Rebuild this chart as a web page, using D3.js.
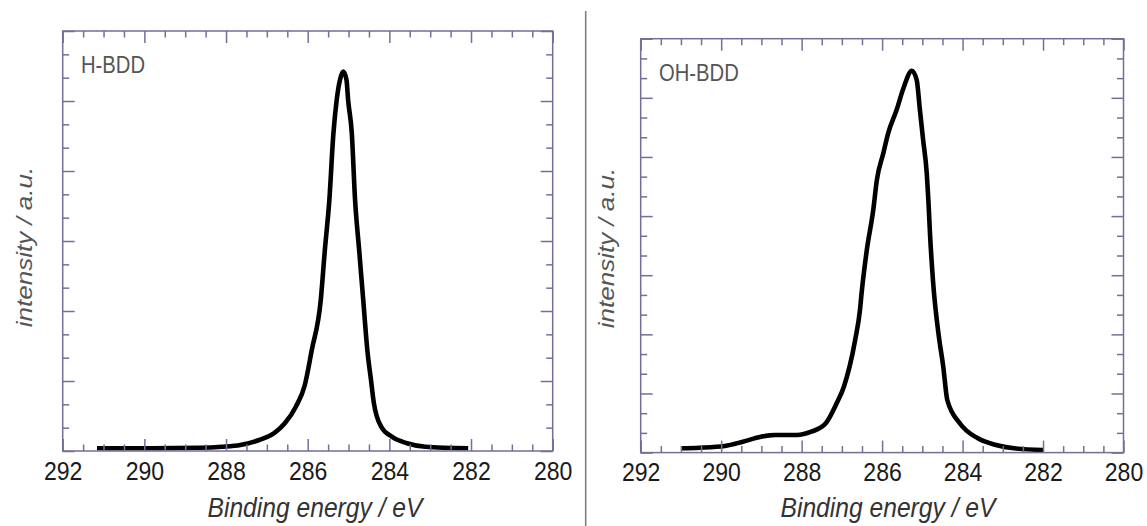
<!DOCTYPE html>
<html>
<head>
<meta charset="utf-8">
<script src="https://cdn.jsdelivr.net/npm/d3@7"></script>
<style>
  body { margin: 0; background: #fff; }
  svg { display: block; }
</style>
</head>
<body>
<svg id="chart" width="1147" height="526"></svg>
<script>
// H-BDD spectrum (binding energy in eV, intensity in arbitrary units)
const hEnergy = [291.16, 289.86, 288.64, 288.10, 287.65, 287.19, 286.83, 286.56, 286.29, 286.07,
                 285.90, 285.68, 285.58, 285.47, 285.37, 285.29, 285.21, 285.13, 285.05, 285.01,
                 284.92, 284.84, 284.74, 284.64, 284.54, 284.45, 284.38, 284.20, 283.94, 283.57,
                 283.12, 282.07];
const hIntensity = [0.039, 0.039, 0.046, 0.061, 0.086, 0.157, 0.253, 0.396, 0.633, 0.943,
                    1.443, 2.157, 2.871, 3.586, 4.539, 5.014, 5.300, 5.419, 5.300, 5.014,
                    4.539, 3.586, 2.871, 2.157, 1.443, 1.014, 0.686, 0.347, 0.204, 0.110,
                    0.061, 0.039];

// OH-BDD spectrum
const ohEnergy = [291.00, 290.54, 289.91, 289.46, 289.01, 288.66, 288.12, 287.76, 287.40, 287.13,
                  286.95, 286.67, 286.55, 286.51, 286.38, 286.22, 286.13, 285.97, 285.85, 285.64,
                  285.47, 285.26, 285.14, 285.06, 284.98, 284.89, 284.85, 284.81, 284.73, 284.60,
                  284.48, 284.38, 284.07, 283.62, 283.17, 282.72, 281.99];
const ohIntensity = [0.073, 0.083, 0.112, 0.184, 0.269, 0.298, 0.298, 0.353, 0.496, 0.834,
                     1.115, 1.904, 2.412, 2.694, 3.426, 4.103, 4.610, 5.062, 5.400, 5.794,
                     6.161, 6.459, 6.301, 5.794, 5.287, 4.723, 4.272, 3.709, 2.863, 2.018,
                     1.453, 0.890, 0.496, 0.242, 0.129, 0.073, 0.044];

// axis ticks and labels
const xMajorTicks = [292, 290, 288, 286, 284, 282, 280];
const xMinorTicks = [291.5, 291, 290.5, 289.5, 289, 288.5, 287.5, 287, 286.5,
                     285.5, 285, 284.5, 283.5, 283, 282.5, 281.5, 281, 280.5];
const panelNames = ["H-BDD", "OH-BDD"];
const xTitle = "Binding energy / eV";
const yTitle = "intensity / a.u.";

const svg = d3.select("#chart");
const frameColor = "#746e9a";
const squash = 0.87;

// layout for the two panels
const panels = [
  { name: panelNames[0], energy: hEnergy, intensity: hIntensity, yMax: 6,
    left: 62.7, right: 552.7, top: 31, bottom: 451,
    nameX: 81, nameY: 73.3, labelY: 480, xTitleX: 315, yTitleX: 32, yTitleY: 247 },
  { name: panelNames[1], energy: ohEnergy, intensity: ohIntensity, yMax: 7,
    left: 640.7, right: 1123.5, top: 38.7, bottom: 452.6,
    nameX: 659, nameY: 80.7, labelY: 481.5, xTitleX: 888, yTitleX: 614, yTitleY: 248 }
];

// separator between the panels
svg.append("line")
  .attr("x1", 585.7).attr("x2", 585.7)
  .attr("y1", 11).attr("y2", 526)
  .attr("stroke", "#808080")
  .attr("stroke-width", 1.6);

function drawPanel(p) {
  const g = svg.append("g");

  const x = d3.scaleLinear().domain([292, 280]).range([p.left, p.right]);
  const y = d3.scaleLinear().domain([0, p.yMax]).range([p.bottom, p.top]);

  const yMajor = d3.range(0, p.yMax + 1);
  const yMinor = d3.range(0, p.yMax * 3 + 1).filter(i => i % 3 != 0).map(i => i / 3);

  // the spectrum
  const pts = p.energy.map((e, i) => [e, p.intensity[i]]);
  g.append("path")
    .datum(pts)
    .attr("fill", "none")
    .attr("stroke", "#000")
    .attr("stroke-width", 4.6)
    .attr("stroke-linejoin", "round")
    .attr("d", d3.line()
      .x(d => x(d[0]))
      .y(d => y(d[1]))
      .curve(d3.curveMonotoneX));

  // ticks, all pointing inward
  const axes = [
    [d3.axisBottom(x).tickValues(xMajorTicks).tickSize(-12), `translate(0,${p.bottom})`, true],
    [d3.axisBottom(x).tickValues(xMinorTicks).tickSize(-6.5), `translate(0,${p.bottom})`, false],
    [d3.axisTop(x).tickValues(xMajorTicks).tickSize(-12), `translate(0,${p.top})`, false],
    [d3.axisTop(x).tickValues(xMinorTicks).tickSize(-6.5), `translate(0,${p.top})`, false],
    [d3.axisLeft(y).tickValues(yMajor).tickSize(-12), `translate(${p.left},0)`, false],
    [d3.axisLeft(y).tickValues(yMinor).tickSize(-6.5), `translate(${p.left},0)`, false],
    [d3.axisRight(y).tickValues(yMajor).tickSize(-12), `translate(${p.right},0)`, false],
    [d3.axisRight(y).tickValues(yMinor).tickSize(-6.5), `translate(${p.right},0)`, false]
  ];

  axes.forEach(([axis, tr, withLabels]) => {
    const a = g.append("g")
      .attr("transform", tr)
      .call(axis.tickFormat(withLabels ? d3.format("d") : ""));
    a.select(".domain").remove();
    a.selectAll(".tick line")
      .attr("stroke", frameColor)
      .attr("stroke-width", 1.5);
    if (withLabels) {
      a.selectAll(".tick text")
        .attr("y", p.labelY - p.bottom)
        .attr("dy", 0)
        .attr("transform", `scale(${squash},1)`)
        .attr("fill", "#1a1a1a")
        .attr("font-family", "'Liberation Sans', Arial, sans-serif")
        .attr("font-size", 26.5);
    }
  });

  // frame
  g.append("rect")
    .attr("x", p.left).attr("y", p.top)
    .attr("width", p.right - p.left)
    .attr("height", p.bottom - p.top)
    .attr("fill", "none")
    .attr("stroke", frameColor)
    .attr("stroke-width", 1.5);

  // sample name
  g.append("text")
    .attr("transform", `translate(${p.nameX},${p.nameY}) scale(0.88,1)`)
    .attr("font-family", "'Liberation Sans', Arial, sans-serif")
    .attr("font-size", 23)
    .attr("fill", "#555")
    .text(p.name);

  // axis titles
  g.append("text")
    .attr("transform", `translate(${p.xTitleX},516.7) scale(0.88,1)`)
    .attr("text-anchor", "middle")
    .attr("font-family", "'Liberation Sans', Arial, sans-serif")
    .attr("font-style", "italic")
    .attr("font-size", 28)
    .attr("fill", "#333")
    .text(xTitle);

  g.append("text")
    .attr("transform", `translate(${p.yTitleX},${p.yTitleY}) scale(${squash},1) rotate(-90)`)
    .attr("text-anchor", "middle")
    .attr("font-family", "'Liberation Sans', Arial, sans-serif")
    .attr("font-style", "italic")
    .attr("font-size", 26)
    .attr("fill", "#555")
    .text(yTitle);
}

panels.forEach(drawPanel);
</script>
</body>
</html>
